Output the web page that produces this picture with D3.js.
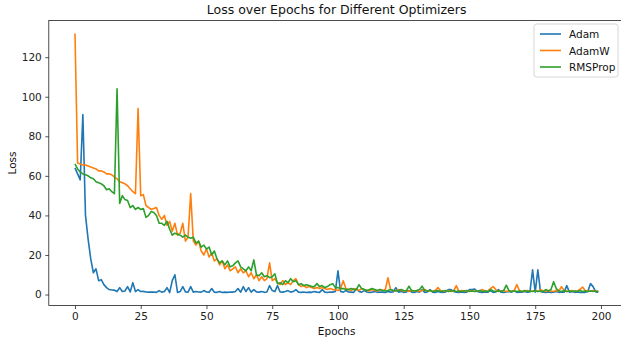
<!DOCTYPE html>
<html>
<head>
<meta charset="utf-8">
<script src="https://cdn.jsdelivr.net/npm/d3@7"></script>
<style>
  body { margin: 0; background: #fff; }
  svg { display: block; font-family: "DejaVu Sans", sans-serif; }
</style>
</head>
<body>
<svg id="chart" width="621" height="343"></svg>
<script>
var seriesNames = ["Adam", "AdamW", "RMSProp"];
var colors = ["#1f77b4", "#ff7f0e", "#2ca02c"];
var xTicks = [0, 25, 50, 75, 100, 125, 150, 175, 200];
var yTicks = [0, 20, 40, 60, 80, 100, 120];

// loss per epoch (0..199)
var adam = [64, 61, 58, 91, 40, 28, 18, 11, 13, 7, 7.5, 5, 3.5, 2.5, 2.3, 2.2, 1.5, 3.5, 1.5, 1.8,
  4, 1.3, 6, 1.5, 2.5, 1.5, 1.6, 1.3, 1.2, 1.2, 1.3, 1.1, 2, 1.2, 1.5, 3.5, 1, 7, 10, 1,
  1.5, 4, 1.3, 1.2, 4, 1.2, 1.5, 1.3, 1.2, 2, 1.3, 1.2, 3, 1.2, 1.1, 1.5, 1, 1.2, 1.1, 1.3,
  1.2, 1.5, 3, 1.2, 4, 1.5, 3.5, 1.2, 2.5, 1.3, 1.2, 1.5, 1.1, 1.3, 4.5, 2, 1.5, 4.5, 1.3, 1.2,
  1.5, 2, 1.2, 1.5, 2.5, 1.2, 1.1, 1.3, 1, 1.2, 1.1, 1.5, 1.2, 1.1, 2.5, 1.2, 1, 1.3, 1.2, 1.5,
  12, 1.5, 1.2, 2, 1.3, 1.2, 1.1, 3, 1.5, 1.2, 2, 1.3, 1, 1.2, 1.5, 1.1, 1.3, 1.2, 1, 1.5,
  1.2, 1.3, 3.5, 1.2, 1.5, 1.1, 1.3, 2, 1.2, 1, 1.5, 1.2, 2.5, 1.1, 1.3, 2.5, 1.2, 1, 1.5, 1.2,
  1.1, 1.3, 2.5, 2.5, 1.5, 1.2, 1.1, 1.3, 1, 1.2, 2.5, 2.5, 2.8, 1.5, 1.2, 1.1, 1.3, 1.2, 2, 1.1,
  1.3, 2.5, 1.2, 1, 1.3, 1.5, 1.2, 2, 1.1, 1.3, 1.2, 1.5, 1.2, 1.3, 12.5, 1.2, 12.5, 1.5, 1.2, 1.1,
  1.3, 1, 1.2, 1.5, 1.1, 1.3, 1.2, 4.5, 1.2, 1.5, 1.1, 1.3, 1, 1.2, 1.1, 1.5, 5.5, 4, 1.3, 1.2];

var adamW = [132, 66.5, 66, 65.5, 65.5, 65, 64.5, 64, 63.5, 62.5, 62.5, 62, 61, 61, 60.5, 59.5, 58.5, 57, 56.5, 56,
  55, 53.5, 52, 51, 94, 50, 50.5, 45, 44, 43, 43.5, 44, 40, 38, 40, 35, 37, 32, 36, 30,
  31, 36, 27, 29, 51, 27, 25, 27, 22, 20, 23, 19, 21, 17, 18, 15, 17, 13, 15, 12,
  13, 14, 11, 13, 11, 12, 9, 11, 8, 10, 7, 9, 7, 8, 16, 7, 8, 6, 5, 7,
  5, 6, 5, 7, 8, 5, 4, 4.5, 3.5, 4, 3.5, 3, 3.5, 3, 3.5, 3, 2.5, 3, 2.5, 2.5,
  2, 3, 7, 3, 2.5, 2, 3, 2.5, 2, 3, 2.5, 2, 1.8, 2.5, 2, 1.8, 2.5, 2, 2.5, 8.5,
  2.5, 2, 1.8, 2.5, 2, 1.8, 2, 1.5, 2.2, 1.8, 2, 1.5, 2, 2.5, 1.8, 2, 1.5, 2, 3.5, 2,
  1.5, 1.8, 2, 1.5, 1.8, 4.5, 1.5, 2, 1.8, 1.5, 1.8, 2, 1.5, 1.8, 2, 2.5, 1.5, 1.8, 3, 4,
  2.5, 1.5, 1.8, 2, 1.5, 1.8, 1.5, 2, 5, 2, 1.5, 1.8, 2, 1.5, 1.8, 2, 1.5, 2.5, 1.8, 1.5,
  2, 1.8, 1.5, 2, 1.8, 4, 2, 1.5, 1.8, 2, 1.5, 1.8, 2.5, 3.8, 2, 1.5, 1.8, 2, 1.5, 1.8];

var rmsProp = [66, 63.5, 62, 61, 60.5, 60, 59, 58.5, 57, 56.5, 56, 55, 53, 53.5, 52, 51, 104, 46, 50, 48,
  47.5, 44, 45, 43, 44, 43, 43.5, 39, 40, 42, 41.5, 40, 36, 36, 35, 37, 33, 30, 31, 30.5,
  30, 29, 30, 29, 28.5, 29, 26, 27, 24, 25, 23, 24, 20, 22, 18, 16, 17, 15, 17, 14,
  14.5, 16, 17, 14, 13, 12, 14, 12, 17.5, 10, 9.5, 11, 9, 9.5, 8.5, 9, 10.5, 5.5, 6, 5,
  7, 6, 8, 6.5, 7, 5, 5.5, 4.5, 5, 4.5, 4, 4, 5.5, 4, 4.5, 3.5, 4, 5, 5.5, 3.5,
  3.5, 3, 3, 2.5, 2.5, 3, 2.5, 2.5, 5, 3, 2.5, 2, 2.5, 3, 2.5, 2, 2.5, 2, 1.8, 2,
  2.5, 2, 1.8, 2, 2.5, 2, 1.8, 4.2, 2, 1.8, 2, 2.5, 4.2, 2, 1.8, 2, 1.5, 1.8, 2, 1.5,
  1.8, 2, 1.5, 1.8, 2, 1.5, 1.8, 1.5, 1.8, 2, 1.5, 1.8, 1.5, 1.8, 2, 1.5, 1.8, 1.5, 2.5, 1.8,
  1.5, 1.8, 1.5, 2, 4.7, 2, 1.5, 1.8, 1.5, 1.8, 1.5, 2, 1.5, 1.8, 1.5, 2, 1.5, 1.8, 1.5, 2.5,
  1.8, 2.5, 6.5, 3, 1.8, 1.5, 2, 1.5, 1.8, 1.5, 1.8, 1.5, 2, 1.5, 1.8, 1.5, 1.8, 1.5, 1.8, 1.5];

var allSeries = [adam, adamW, rmsProp];

var margin = {l: 48.8, t: 20.5, r: 624.5, b: 305.5};
var svg = d3.select("#chart");

// matplotlib-like 5% padding around the data
var n = adam.length;
var xPad = (n - 1) * 0.05;
var allVals = d3.merge(allSeries);
var yMin = d3.min(allVals), yMax = d3.max(allVals);
var yPad = (yMax - yMin) * 0.05;

var x = d3.scaleLinear().domain([-xPad, n - 1 + xPad]).range([margin.l, margin.r]);
var y = d3.scaleLinear().domain([yMin - yPad, yMax + yPad]).range([margin.b, margin.t]);

var line = d3.line()
  .x(function(d, i){ return x(i); })
  .y(function(d){ return y(d); });

var plot = svg.append("g");
allSeries.forEach(function(s, k){
  plot.append("path")
    .datum(s)
    .attr("d", line)
    .attr("fill", "none")
    .attr("stroke", colors[k])
    .attr("stroke-width", 1.6)
    .attr("stroke-linejoin", "round");
});

// axes
var xAxis = svg.append("g")
  .attr("transform", "translate(0," + margin.b + ")")
  .call(d3.axisBottom(x).tickValues(xTicks).tickSize(3.5).tickPadding(3.5).tickFormat(d3.format("d")));
var yAxis = svg.append("g")
  .attr("transform", "translate(" + margin.l + ",0)")
  .call(d3.axisLeft(y).tickValues(yTicks).tickSize(3.5).tickPadding(3.5).tickFormat(d3.format("d")));
[xAxis, yAxis].forEach(function(a){
  a.select(".domain").remove();
  a.selectAll("text").attr("font-size", 10.5).attr("fill", "#222").attr("font-family", "DejaVu Sans");
  a.selectAll("line").attr("stroke", "#222").attr("stroke-width", 0.8);
});

// frame
svg.append("rect")
  .attr("x", margin.l).attr("y", margin.t)
  .attr("width", margin.r - margin.l).attr("height", margin.b - margin.t)
  .attr("fill", "none").attr("stroke", "#222").attr("stroke-width", 0.8);

// titles
svg.append("text")
  .attr("x", (margin.l + margin.r) / 2).attr("y", 14)
  .attr("text-anchor", "middle").attr("font-size", 12.5).attr("fill", "#111")
  .text("Loss over Epochs for Different Optimizers");
svg.append("text")
  .attr("x", (margin.l + margin.r) / 2).attr("y", 335)
  .attr("text-anchor", "middle").attr("font-size", 10.5).attr("fill", "#111")
  .text("Epochs");
svg.append("text")
  .attr("transform", "translate(16," + ((margin.t + margin.b) / 2) + ") rotate(-90)")
  .attr("text-anchor", "middle").attr("font-size", 10.5).attr("fill", "#111")
  .text("Loss");

// legend
var legend = svg.append("g").attr("transform", "translate(534,24)");
legend.append("rect")
  .attr("width", 84).attr("height", 53).attr("rx", 2.5)
  .attr("fill", "#fff").attr("fill-opacity", 0.8)
  .attr("stroke", "#ccc").attr("stroke-width", 0.8);
seriesNames.forEach(function(name, k){
  var g = legend.append("g").attr("transform", "translate(0," + (10 + k * 16.5) + ")");
  g.append("line").attr("x1", 6).attr("x2", 27).attr("y1", 0).attr("y2", 0)
    .attr("stroke", colors[k]).attr("stroke-width", 1.6);
  g.append("text").attr("x", 35).attr("y", 4)
    .attr("font-size", 10.5).attr("fill", "#111").text(name);
});
</script>
</body>
</html>
